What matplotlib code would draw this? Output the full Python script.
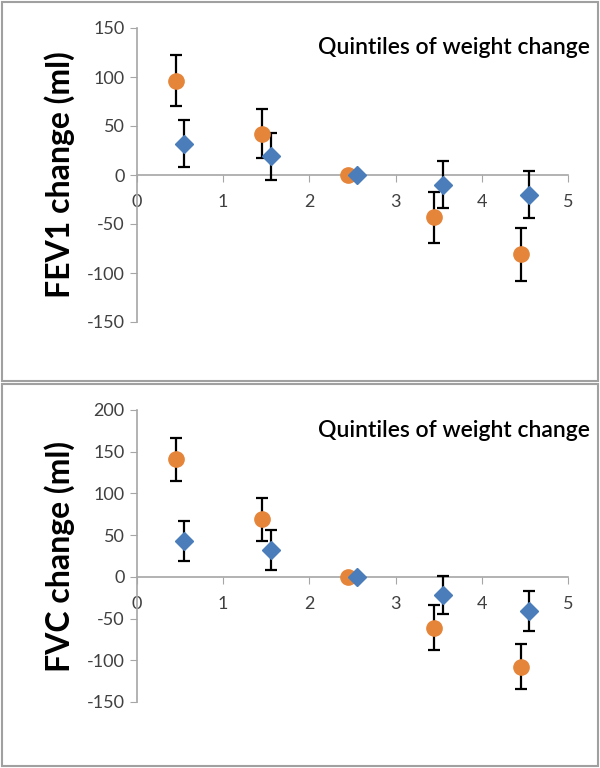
import matplotlib
matplotlib.use("Agg")
import matplotlib.pyplot as plt
from matplotlib.patches import Rectangle

# quintile positions (orange offset left, blue offset right)
x_orange = [0.45, 1.45, 2.45, 3.45, 4.45]
x_blue = [0.55, 1.55, 2.55, 3.55, 4.55]

# FEV1 panel
fev1_orange = [96, 42, 0, -43, -81]
fev1_orange_err = [26, 25, 0, 26, 27]
fev1_blue = [32, 19, 0, -10, -20]
fev1_blue_err = [24, 24, 0, 24, 24]

# FVC panel
fvc_orange = [141, 69, 0, -61, -108]
fvc_orange_err = [26, 26, 0, 27, 27]
fvc_blue = [43, 32, 0, -22, -41]
fvc_blue_err = [24, 24, 0, 23, 24]

orange = "#E5853A"
blue = "#4A7DB9"
axis_grey = "#A6A6A6"
text_grey = "#404040"

plt.rcParams['font.family'] = ['Lato', 'DejaVu Sans']
plt.rcParams['axes.unicode_minus'] = False

fig = plt.figure(figsize=(6, 7.68), dpi=100)

# panel frames
for y0, h in [(1 - 381 / 768, 379 / 768), (2 / 768, 382 / 768)]:
    fig.patches.append(Rectangle((2 / 600, y0), 596 / 600, h, transform=fig.transFigure,
                                 fill=False, edgecolor="#A0A0A0", linewidth=1.5))


def draw_panel(ax, yo, yo_err, yb, yb_err, ylim, yticks, ylabel, label_y):
    ax.errorbar(x_orange, yo, yerr=yo_err, fmt="o", color=orange, markersize=11,
                ecolor="black", elinewidth=1.6, capsize=4.5, capthick=1.6, zorder=3)
    ax.errorbar(x_blue, yb, yerr=yb_err, fmt="D", color=blue, markersize=9,
                ecolor="black", elinewidth=1.6, capsize=4.5, capthick=1.6, zorder=3)
    ax.set_xlim(0, 5)
    ax.set_ylim(*ylim)
    ax.set_yticks(yticks)
    ax.set_xticks(range(6))
    for s in ["top", "right"]:
        ax.spines[s].set_visible(False)
    ax.spines["bottom"].set_position(("data", 0))
    ax.spines["bottom"].set_color(axis_grey)
    ax.spines["left"].set_color(axis_grey)
    ax.spines["bottom"].set_linewidth(1.2)
    ax.spines["left"].set_linewidth(1.2)
    ax.tick_params(axis="y", direction="out", length=5, color=axis_grey,
                   labelsize=13, labelcolor=text_grey, pad=4)
    ax.tick_params(axis="x", direction="out", length=5, color=axis_grey,
                   labelsize=13, labelcolor=text_grey, pad=9)
    ax.patch.set_visible(False)
    ax.set_ylabel(ylabel, fontsize=23, fontweight="bold", color="black", labelpad=8)
    ax.text(1.05, label_y, "Quintiles of weight change", transform=ax.transAxes,
            ha="right", va="center", fontsize=16.5, fontweight="semibold", color="black")


ax1 = fig.add_axes([137 / 600, 1 - 322 / 768, 431 / 600, 294 / 768])
draw_panel(ax1, fev1_orange, fev1_orange_err, fev1_blue, fev1_blue_err,
           (-150, 150), [-150, -100, -50, 0, 50, 100, 150], "FEV1 change (ml)", 0.935)

ax2 = fig.add_axes([137 / 600, 1 - 702 / 768, 431 / 600, 292 / 768])
draw_panel(ax2, fvc_orange, fvc_orange_err, fvc_blue, fvc_blue_err,
           (-150, 200), [-150, -100, -50, 0, 50, 100, 150, 200], "FVC change (ml)", 0.93)

fig.savefig("out.png", dpi=100)
